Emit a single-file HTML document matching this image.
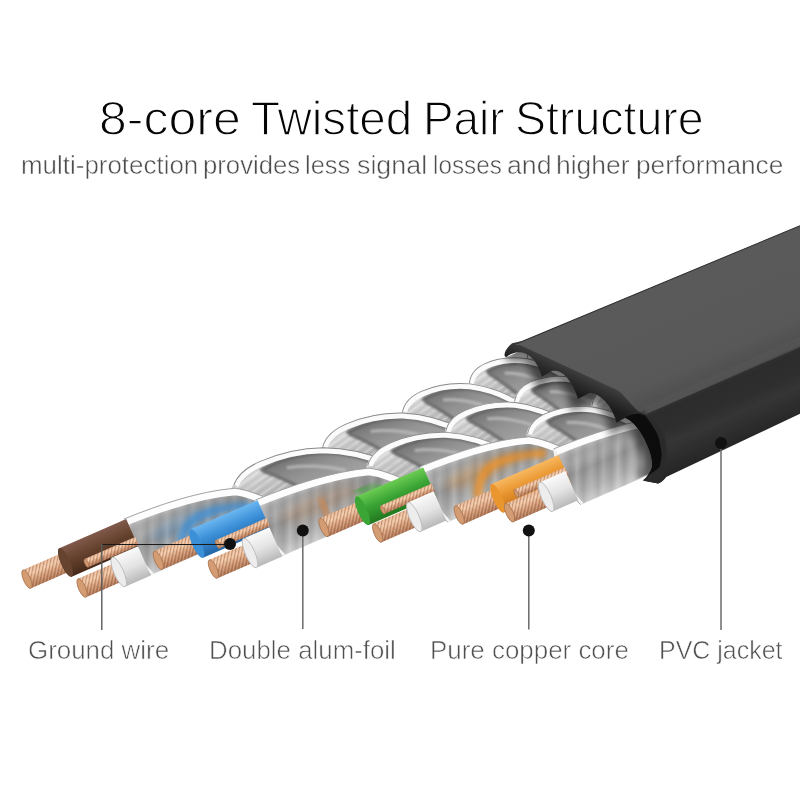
<!DOCTYPE html><html><head><meta charset="utf-8"><style>
html,body{margin:0;padding:0;background:#fff;}
body{width:800px;height:800px;position:relative;overflow:hidden;font-family:"Liberation Sans",sans-serif;}
.t{position:absolute;white-space:nowrap;line-height:1;}
.ti{font-size:48px;color:#050505;-webkit-text-stroke:1.3px #fff;transform-origin:0 0;}
.su{font-size:25px;color:#4d4d4d;-webkit-text-stroke:0.5px #fff;transform-origin:0 0;}
.lb{font-size:26px;color:#4f4f4f;-webkit-text-stroke:0.6px #fff;transform-origin:0 0;}
svg{position:absolute;left:0;top:0;}
</style></head><body>
<svg width="800" height="800" viewBox="0 0 800 800">
<defs>
<filter id="blur1" x="-20%" y="-20%" width="140%" height="140%"><feGaussianBlur stdDeviation="1.2"/></filter>
<filter id="blur3" x="-50%" y="-50%" width="200%" height="200%"><feGaussianBlur stdDeviation="4"/></filter>
<linearGradient id="gLobe" x1="0" y1="0" x2="0" y2="1"><stop offset="0" stop-color="#e2e2e2"/><stop offset="0.3" stop-color="#c9c9c9"/><stop offset="0.6" stop-color="#b3b3b3"/><stop offset="1" stop-color="#c2c2c2"/></linearGradient>
<linearGradient id="gSeg" x1="0" y1="0" x2="0" y2="1"><stop offset="0" stop-color="#dedede"/><stop offset="0.22" stop-color="#b4b4b4"/><stop offset="0.5" stop-color="#929292"/><stop offset="0.8" stop-color="#adadad"/><stop offset="1" stop-color="#c8c8c8"/></linearGradient>
<linearGradient id="gHol" x1="0" y1="0" x2="0" y2="1"><stop offset="0" stop-color="#747474"/><stop offset="0.4" stop-color="#929292"/><stop offset="1" stop-color="#ababab"/></linearGradient>
<linearGradient id="gWhite" x1="0" y1="0" x2="0" y2="1"><stop offset="0" stop-color="#fafafa"/><stop offset="0.5" stop-color="#e4e4e4"/><stop offset="1" stop-color="#b9b9b9"/></linearGradient>
<linearGradient id="gbrown" x1="0" y1="0" x2="0" y2="1"><stop offset="0" stop-color="#80594a"/><stop offset="0.45" stop-color="#66432f"/><stop offset="1" stop-color="#47291a"/></linearGradient>
<linearGradient id="gblue" x1="0" y1="0" x2="0" y2="1"><stop offset="0" stop-color="#6ab6f0"/><stop offset="0.45" stop-color="#3c90d8"/><stop offset="1" stop-color="#2266a6"/></linearGradient>
<linearGradient id="ggreen" x1="0" y1="0" x2="0" y2="1"><stop offset="0" stop-color="#6ccc52"/><stop offset="0.45" stop-color="#3ba636"/><stop offset="1" stop-color="#22781f"/></linearGradient>
<linearGradient id="gorange" x1="0" y1="0" x2="0" y2="1"><stop offset="0" stop-color="#f8b860"/><stop offset="0.45" stop-color="#e9962f"/><stop offset="1" stop-color="#c6701a"/></linearGradient>
<linearGradient id="gCu" x1="0" y1="0" x2="0" y2="1"><stop offset="0" stop-color="#e7b896"/><stop offset="0.3" stop-color="#f2cbab"/><stop offset="0.6" stop-color="#d49d78"/><stop offset="1" stop-color="#a86f4f"/></linearGradient>
<pattern id="pCu" width="3.2" height="3.2" patternUnits="userSpaceOnUse" patternTransform="rotate(-55)"><rect width="3.2" height="1" fill="#9b5f3e" opacity="0.5"/><rect y="1.6" width="3.2" height="0.6" fill="#fff3e6" opacity="0.35"/></pattern>
<linearGradient id="gShade" x1="-22" y1="0" x2="0" y2="0" gradientUnits="userSpaceOnUse"><stop offset="0" stop-color="#000" stop-opacity="0"/><stop offset="1" stop-color="#000" stop-opacity="0.75"/></linearGradient>
<linearGradient id="gJtop" x1="0" y1="0" x2="0" y2="1"><stop offset="0" stop-color="#5a5a5a"/><stop offset="0.8" stop-color="#585858"/><stop offset="1" stop-color="#4e4e4e"/></linearGradient>
<linearGradient id="gJfront" x1="0" y1="0" x2="0" y2="1"><stop offset="0" stop-color="#444"/><stop offset="0.28" stop-color="#2c2c2c"/><stop offset="0.5" stop-color="#2e2e2e"/><stop offset="0.65" stop-color="#353535"/><stop offset="1" stop-color="#252525"/></linearGradient>
<linearGradient id="gRing" x1="0" y1="0" x2="1" y2="1"><stop offset="0" stop-color="#3a3a3a"/><stop offset="0.5" stop-color="#2a2a2a"/><stop offset="1" stop-color="#222"/></linearGradient>
<linearGradient id="gShade2" x1="0" y1="0" x2="1" y2="0"><stop offset="0" stop-color="#000" stop-opacity="0"/><stop offset="0.5" stop-color="#000" stop-opacity="0.6"/><stop offset="1" stop-color="#000" stop-opacity="0.9"/></linearGradient>
<filter id="blur4" x="-50%" y="-50%" width="200%" height="200%"><feGaussianBlur stdDeviation="5"/></filter>
<linearGradient id="gRing2" x1="470" y1="40" x2="455" y2="53" gradientUnits="userSpaceOnUse"><stop offset="0" stop-color="#3e3e3e"/><stop offset="0.5" stop-color="#2c2c2c"/><stop offset="1" stop-color="#1c1c1c"/></linearGradient>
<filter id="blur2" x="-30%" y="-30%" width="160%" height="160%"><feGaussianBlur stdDeviation="2.5"/></filter>
<pattern id="pStreak" width="41" height="40" patternUnits="userSpaceOnUse" patternTransform="rotate(23.5)"><rect x="0" width="4" height="40" fill="#fff" opacity="0.2"/><rect x="7" width="3" height="40" fill="#000" opacity="0.06"/><rect x="13" width="6" height="40" fill="#fff" opacity="0.12"/><rect x="22" width="2" height="40" fill="#000" opacity="0.07"/><rect x="27" width="3" height="40" fill="#fff" opacity="0.16"/><rect x="34" width="4" height="40" fill="#000" opacity="0.05"/></pattern>
<pattern id="pStreak2" width="60" height="13" patternUnits="userSpaceOnUse" patternTransform="rotate(-12)"><rect y="0" width="60" height="1.5" fill="#fff" opacity="0.35"/><rect y="4" width="60" height="1" fill="#000" opacity="0.06"/><rect y="7" width="60" height="2" fill="#fff" opacity="0.25"/><rect y="10.5" width="60" height="1" fill="#000" opacity="0.05"/></pattern>
</defs>
<g transform="translate(124 519) rotate(-23.5)">
<clipPath id="cpShade"><path d="M380,4 L560,4 L560,168 L380,168 Z"/></clipPath>
<path d="M492.0,13.0 C495.8,5.0 502.2,1.5 509.9,1.5 C520.1,1.5 531.6,5.0 543.0,14.0 C552.6,22.0 563.5,36.0 572.4,54.0 L572.4,62.0 L490.7,62.0 L490.7,13.0 Z" fill="url(#gLobe)"/><path d="M492.0,13.0 C495.8,5.0 502.2,1.5 509.9,1.5 C520.1,1.5 531.6,5.0 543.0,14.0 C552.6,22.0 563.5,36.0 572.4,54.0 L572.4,62.0 L490.7,62.0 L490.7,13.0 Z" fill="url(#pStreak2)"/><path d="M494.6,22.0 C500.9,20.0 507.3,22.0 513.7,28.0" fill="none" stroke="#c4c4c4" stroke-width="1.5" filter="url(#blur1)"/><path d="M507.3,9.0 C517.5,6.0 530.3,8.0 543.0,18.0 C552.6,26.0 562.2,40.0 571.1,58.0 L571.1,62.0 L530.3,62.0 C525.2,46.0 517.5,26.0 507.3,9.0 Z" fill="url(#gHol)" filter="url(#blur1)"/><path d="M508.6,10.0 C517.5,7.5 530.3,9.5 543.0,19.5 C552.0,27.0 560.9,40.0 568.6,56.0" fill="none" stroke="#5a5a5a" stroke-width="3.5" filter="url(#blur1)" opacity="0.65"/><path d="M509.2,12.0 C516.2,24.0 522.6,38.0 529.0,54.0" fill="none" stroke="#5a5a5a" stroke-width="3" filter="url(#blur1)" opacity="0.75"/><path d="M521.3,18.0 C530.3,22.0 539.2,30.0 549.4,44.0" fill="none" stroke="#c0c0c0" stroke-width="3" filter="url(#blur1)" opacity="0.8"/><path d="M493.0,14.0 C496.5,7.5 502.2,4.2 509.9,4.2 C520.1,4.2 530.9,7.5 542.4,16.5 C552.0,24.5 562.2,38.0 571.1,56.0" fill="none" stroke="#fbfbfb" stroke-width="5.5"/><path d="M492.0,13.0 C495.8,5.0 502.2,1.5 509.9,1.5 C520.1,1.5 531.6,5.0 543.0,14.0 C552.6,22.0 563.5,36.0 572.4,54.0" fill="none" stroke="#8a8a8a" stroke-width="0.9"/><path d="M434.0,13.0 C438.4,5.0 445.6,1.5 454.3,1.5 C465.9,1.5 478.9,5.0 492.0,14.0 C502.9,22.0 515.2,36.0 525.4,54.0 L525.4,62.0 L432.6,62.0 L432.6,13.0 Z" fill="url(#gLobe)"/><path d="M434.0,13.0 C438.4,5.0 445.6,1.5 454.3,1.5 C465.9,1.5 478.9,5.0 492.0,14.0 C502.9,22.0 515.2,36.0 525.4,54.0 L525.4,62.0 L432.6,62.0 L432.6,13.0 Z" fill="url(#pStreak2)"/><path d="M436.9,22.0 C444.1,20.0 451.4,22.0 458.6,28.0" fill="none" stroke="#c4c4c4" stroke-width="1.5" filter="url(#blur1)"/><path d="M451.4,9.0 C463.0,6.0 477.5,8.0 492.0,18.0 C502.9,26.0 513.8,40.0 523.9,58.0 L523.9,62.0 L477.5,62.0 C471.7,46.0 463.0,26.0 451.4,9.0 Z" fill="url(#gHol)" filter="url(#blur1)"/><path d="M452.9,10.0 C463.0,7.5 477.5,9.5 492.0,19.5 C502.1,27.0 512.3,40.0 521.0,56.0" fill="none" stroke="#5a5a5a" stroke-width="3.5" filter="url(#blur1)" opacity="0.65"/><path d="M453.6,12.0 C461.6,24.0 468.8,38.0 476.1,54.0" fill="none" stroke="#5a5a5a" stroke-width="3" filter="url(#blur1)" opacity="0.75"/><path d="M467.4,18.0 C477.5,22.0 487.6,30.0 499.2,44.0" fill="none" stroke="#c0c0c0" stroke-width="3" filter="url(#blur1)" opacity="0.8"/><path d="M435.1,14.0 C439.1,7.5 445.6,4.2 454.3,4.2 C465.9,4.2 478.2,7.5 491.3,16.5 C502.1,24.5 513.8,38.0 523.9,56.0" fill="none" stroke="#fbfbfb" stroke-width="5.5"/><path d="M434.0,13.0 C438.4,5.0 445.6,1.5 454.3,1.5 C465.9,1.5 478.9,5.0 492.0,14.0 C502.9,22.0 515.2,36.0 525.4,54.0" fill="none" stroke="#8a8a8a" stroke-width="0.9"/><path d="M371.0,13.0 C375.7,5.0 383.6,1.5 393.1,1.5 C405.6,1.5 419.8,5.0 434.0,14.0 C445.8,22.0 459.2,36.0 470.2,54.0 L470.2,62.0 L369.4,62.0 L369.4,13.0 Z" fill="url(#gLobe)"/><path d="M371.0,13.0 C375.7,5.0 383.6,1.5 393.1,1.5 C405.6,1.5 419.8,5.0 434.0,14.0 C445.8,22.0 459.2,36.0 470.2,54.0 L470.2,62.0 L369.4,62.0 L369.4,13.0 Z" fill="url(#pStreak2)"/><path d="M374.1,22.0 C382.0,20.0 389.9,22.0 397.8,28.0" fill="none" stroke="#c4c4c4" stroke-width="1.5" filter="url(#blur1)"/><path d="M389.9,9.0 C402.5,6.0 418.2,8.0 434.0,18.0 C445.8,26.0 457.6,40.0 468.6,58.0 L468.6,62.0 L418.2,62.0 C411.9,46.0 402.5,26.0 389.9,9.0 Z" fill="url(#gHol)" filter="url(#blur1)"/><path d="M391.5,10.0 C402.5,7.5 418.2,9.5 434.0,19.5 C445.0,27.0 456.1,40.0 465.5,56.0" fill="none" stroke="#5a5a5a" stroke-width="3.5" filter="url(#blur1)" opacity="0.65"/><path d="M392.3,12.0 C400.9,24.0 408.8,38.0 416.7,54.0" fill="none" stroke="#5a5a5a" stroke-width="3" filter="url(#blur1)" opacity="0.75"/><path d="M407.2,18.0 C418.2,22.0 429.3,30.0 441.9,44.0" fill="none" stroke="#c0c0c0" stroke-width="3" filter="url(#blur1)" opacity="0.8"/><path d="M372.2,14.0 C376.5,7.5 383.6,4.2 393.1,4.2 C405.6,4.2 419.0,7.5 433.2,16.5 C445.0,24.5 457.6,38.0 468.6,56.0" fill="none" stroke="#fbfbfb" stroke-width="5.5"/><path d="M371.0,13.0 C375.7,5.0 383.6,1.5 393.1,1.5 C405.6,1.5 419.8,5.0 434.0,14.0 C445.8,22.0 459.2,36.0 470.2,54.0" fill="none" stroke="#8a8a8a" stroke-width="0.9"/><path d="M298.0,13.0 C303.5,5.0 312.6,1.5 323.6,1.5 C338.1,1.5 354.6,5.0 371.0,14.0 C384.7,22.0 400.2,36.0 413.0,54.0 L413.0,62.0 L296.2,62.0 L296.2,13.0 Z" fill="url(#gLobe)"/><path d="M298.0,13.0 C303.5,5.0 312.6,1.5 323.6,1.5 C338.1,1.5 354.6,5.0 371.0,14.0 C384.7,22.0 400.2,36.0 413.0,54.0 L413.0,62.0 L296.2,62.0 L296.2,13.0 Z" fill="url(#pStreak2)"/><path d="M301.6,22.0 C310.8,20.0 319.9,22.0 329.0,28.0" fill="none" stroke="#c4c4c4" stroke-width="1.5" filter="url(#blur1)"/><path d="M319.9,9.0 C334.5,6.0 352.8,8.0 371.0,18.0 C384.7,26.0 398.4,40.0 411.1,58.0 L411.1,62.0 L352.8,62.0 C345.4,46.0 334.5,26.0 319.9,9.0 Z" fill="url(#gHol)" filter="url(#blur1)"/><path d="M321.7,10.0 C334.5,7.5 352.8,9.5 371.0,19.5 C383.8,27.0 396.6,40.0 407.5,56.0" fill="none" stroke="#5a5a5a" stroke-width="3.5" filter="url(#blur1)" opacity="0.65"/><path d="M322.6,12.0 C332.7,24.0 341.8,38.0 350.9,54.0" fill="none" stroke="#5a5a5a" stroke-width="3" filter="url(#blur1)" opacity="0.75"/><path d="M340.0,18.0 C352.8,22.0 365.5,30.0 380.1,44.0" fill="none" stroke="#c0c0c0" stroke-width="3" filter="url(#blur1)" opacity="0.8"/><path d="M299.4,14.0 C304.4,7.5 312.6,4.2 323.6,4.2 C338.1,4.2 353.7,7.5 370.1,16.5 C383.8,24.5 398.4,38.0 411.1,56.0" fill="none" stroke="#fbfbfb" stroke-width="5.5"/><path d="M298.0,13.0 C303.5,5.0 312.6,1.5 323.6,1.5 C338.1,1.5 354.6,5.0 371.0,14.0 C384.7,22.0 400.2,36.0 413.0,54.0" fill="none" stroke="#8a8a8a" stroke-width="0.9"/><path d="M211.0,13.0 C217.5,5.0 228.4,1.5 241.4,1.5 C258.9,1.5 278.4,5.0 298.0,14.0 C314.3,22.0 332.8,36.0 348.0,54.0 L348.0,62.0 L208.8,62.0 L208.8,13.0 Z" fill="url(#gLobe)"/><path d="M211.0,13.0 C217.5,5.0 228.4,1.5 241.4,1.5 C258.9,1.5 278.4,5.0 298.0,14.0 C314.3,22.0 332.8,36.0 348.0,54.0 L348.0,62.0 L208.8,62.0 L208.8,13.0 Z" fill="url(#pStreak2)"/><path d="M215.3,22.0 C226.2,20.0 237.1,22.0 248.0,28.0" fill="none" stroke="#c4c4c4" stroke-width="1.5" filter="url(#blur1)"/><path d="M237.1,9.0 C254.5,6.0 276.2,8.0 298.0,18.0 C314.3,26.0 330.6,40.0 345.9,58.0 L345.9,62.0 L276.2,62.0 C267.6,46.0 254.5,26.0 237.1,9.0 Z" fill="url(#gHol)" filter="url(#blur1)"/><path d="M239.3,10.0 C254.5,7.5 276.2,9.5 298.0,19.5 C313.2,27.0 328.4,40.0 341.5,56.0" fill="none" stroke="#5a5a5a" stroke-width="3.5" filter="url(#blur1)" opacity="0.65"/><path d="M240.4,12.0 C252.3,24.0 263.2,38.0 274.1,54.0" fill="none" stroke="#5a5a5a" stroke-width="3" filter="url(#blur1)" opacity="0.75"/><path d="M261.0,18.0 C276.2,22.0 291.5,30.0 308.9,44.0" fill="none" stroke="#c0c0c0" stroke-width="3" filter="url(#blur1)" opacity="0.8"/><path d="M212.6,14.0 C218.6,7.5 228.4,4.2 241.4,4.2 C258.9,4.2 277.3,7.5 296.9,16.5 C313.2,24.5 330.6,38.0 345.9,56.0" fill="none" stroke="#fbfbfb" stroke-width="5.5"/><path d="M211.0,13.0 C217.5,5.0 228.4,1.5 241.4,1.5 C258.9,1.5 278.4,5.0 298.0,14.0 C314.3,22.0 332.8,36.0 348.0,54.0" fill="none" stroke="#8a8a8a" stroke-width="0.9"/><path d="M114.0,13.0 C121.3,5.0 133.4,1.5 147.9,1.5 C167.3,1.5 189.2,5.0 211.0,14.0 C229.2,22.0 249.8,36.0 266.8,54.0 L266.8,62.0 L111.6,62.0 L111.6,13.0 Z" fill="url(#gLobe)"/><path d="M114.0,13.0 C121.3,5.0 133.4,1.5 147.9,1.5 C167.3,1.5 189.2,5.0 211.0,14.0 C229.2,22.0 249.8,36.0 266.8,54.0 L266.8,62.0 L111.6,62.0 L111.6,13.0 Z" fill="url(#pStreak2)"/><path d="M118.8,22.0 C131.0,20.0 143.1,22.0 155.2,28.0" fill="none" stroke="#c4c4c4" stroke-width="1.5" filter="url(#blur1)"/><path d="M143.1,9.0 C162.5,6.0 186.8,8.0 211.0,18.0 C229.2,26.0 247.4,40.0 264.4,58.0 L264.4,62.0 L186.8,62.0 C177.1,46.0 162.5,26.0 143.1,9.0 Z" fill="url(#gHol)" filter="url(#blur1)"/><path d="M145.5,10.0 C162.5,7.5 186.8,9.5 211.0,19.5 C228.0,27.0 244.9,40.0 259.5,56.0" fill="none" stroke="#5a5a5a" stroke-width="3.5" filter="url(#blur1)" opacity="0.65"/><path d="M146.7,12.0 C160.1,24.0 172.2,38.0 184.3,54.0" fill="none" stroke="#5a5a5a" stroke-width="3" filter="url(#blur1)" opacity="0.75"/><path d="M169.8,18.0 C186.8,22.0 203.7,30.0 223.1,44.0" fill="none" stroke="#c0c0c0" stroke-width="3" filter="url(#blur1)" opacity="0.8"/><path d="M115.8,14.0 C122.5,7.5 133.4,4.2 147.9,4.2 C167.3,4.2 188.0,7.5 209.8,16.5 C228.0,24.5 247.4,38.0 264.4,56.0" fill="none" stroke="#fbfbfb" stroke-width="5.5"/><path d="M114.0,13.0 C121.3,5.0 133.4,1.5 147.9,1.5 C167.3,1.5 189.2,5.0 211.0,14.0 C229.2,22.0 249.8,36.0 266.8,54.0" fill="none" stroke="#8a8a8a" stroke-width="0.9"/><path d="M0.0,0.0 C39.9,1.0 79.8,4.5 114.0,16.0 C124.0,22.0 136.0,33.0 148.0,48.0 L148.0,62.0 L4.0,62.0 C-3.0,40.0 -5.0,20.0 0.0,0.0 Z" fill="url(#gSeg)"/><path d="M0.0,0.0 C39.9,1.0 79.8,4.5 114.0,16.0 C124.0,22.0 136.0,33.0 148.0,48.0 L148.0,62.0 L4.0,62.0 C-3.0,40.0 -5.0,20.0 0.0,0.0 Z" fill="url(#pStreak)" filter="url(#blur1)"/><ellipse cx="57.0" cy="28.0" rx="41.0" ry="10" fill="#3c90d8" opacity="0.25" filter="url(#blur3)"/><path d="M40.0,52.0 C46.0,36.0 56.0,28.0 72.0,27.0 C92.0,27.0 108.0,32.0 120.0,38.0" fill="none" stroke="#3c90d8" stroke-width="9" filter="url(#blur2)" opacity="0.75"/><path d="M4.0,12.0 C39.9,12.0 79.8,16.0 118.0,28.0" fill="none" stroke="#7a7a7a" stroke-width="6" filter="url(#blur3)" opacity="0.6"/><path d="M1.0,3.5 C39.9,4.5 79.8,8.0 113.0,19.5 C122.0,25.0 134.0,36.0 146.0,51.0" fill="none" stroke="#fdfdfd" stroke-width="7"/><path d="M0.0,0.0 C39.9,1.0 79.8,4.5 114.0,16.0 C124.0,22.0 136.0,33.0 148.0,48.0" fill="none" stroke="#999" stroke-width="0.8"/>
<path d="M0.0,1.0 C-5.0,20.0 -4.0,42.0 4.0,62.0" fill="none" stroke="#f4f4f4" stroke-width="3.5"/><path d="M-1.5,1.0 C-6.5,20.0 -5.5,42.0 2.5,62.0" fill="none" stroke="#9c9c9c" stroke-width="0.8"/><path d="M-66.0,6.5 L-113.0,6.5 A3.5,10.0 0 0 0 -113.0,26.5 L-66.0,26.5 Z" fill="url(#gCu)"/><path d="M-66.0,6.5 L-113.0,6.5 A3.5,10.0 0 0 0 -113.0,26.5 L-66.0,26.5 Z" fill="url(#pCu)"/><ellipse cx="-113.0" cy="16.5" rx="3.5" ry="10.0" fill="#d39c72" stroke="#a5704c" stroke-width="0.7"/><path d="M2.0,1.0 L-71.0,1.0 A4.6,15.5 0 0 0 -71.0,32.0 L2.0,32.0 Z" fill="url(#gbrown)"/><ellipse cx="-71.0" cy="16.5" rx="4.6" ry="15.5" fill="#66432f"/><path d="M3.0,21.0 L-52.0,21.0 A1.6,4.5 0 0 0 -52.0,30.0 L3.0,30.0 Z" fill="url(#gCu)"/><path d="M3.0,21.0 L-52.0,21.0 A1.6,4.5 0 0 0 -52.0,30.0 L3.0,30.0 Z" fill="url(#pCu)"/><ellipse cx="-52.0" cy="25.5" rx="1.6" ry="4.5" fill="#d39c72" stroke="#a5704c" stroke-width="0.7"/><path d="M-20.0,36.5 L-66.0,36.5 A3.5,10.0 0 0 0 -66.0,56.5 L-20.0,56.5 Z" fill="url(#gCu)"/><path d="M-20.0,36.5 L-66.0,36.5 A3.5,10.0 0 0 0 -66.0,56.5 L-20.0,56.5 Z" fill="url(#pCu)"/><ellipse cx="-66.0" cy="46.5" rx="3.5" ry="10.0" fill="#d39c72" stroke="#a5704c" stroke-width="0.7"/><path d="M2.0,30.5 L-26.0,30.5 A4.8,16.0 0 0 0 -26.0,62.5 L2.0,62.5 Z" fill="url(#gWhite)"/><ellipse cx="-26.0" cy="46.5" rx="4.8" ry="16.0" fill="#ededed"/><ellipse cx="-26.0" cy="46.5" rx="4.8" ry="16" fill="none" stroke="#b8b8b8" stroke-width="0.8"/>
<path d="M526.0,48.0 C529.8,40.0 536.2,36.5 543.9,36.5 C554.1,36.5 565.6,40.0 577.0,49.0 C586.6,57.0 597.5,71.0 606.4,89.0 L606.4,97.0 L524.7,97.0 L524.7,48.0 Z" fill="url(#gLobe)"/><path d="M526.0,48.0 C529.8,40.0 536.2,36.5 543.9,36.5 C554.1,36.5 565.6,40.0 577.0,49.0 C586.6,57.0 597.5,71.0 606.4,89.0 L606.4,97.0 L524.7,97.0 L524.7,48.0 Z" fill="url(#pStreak2)"/><path d="M528.6,57.0 C534.9,55.0 541.3,57.0 547.7,63.0" fill="none" stroke="#c4c4c4" stroke-width="1.5" filter="url(#blur1)"/><path d="M541.3,44.0 C551.5,41.0 564.3,43.0 577.0,53.0 C586.6,61.0 596.2,75.0 605.1,93.0 L605.1,97.0 L564.3,97.0 C559.2,81.0 551.5,61.0 541.3,44.0 Z" fill="url(#gHol)" filter="url(#blur1)"/><path d="M542.6,45.0 C551.5,42.5 564.3,44.5 577.0,54.5 C586.0,62.0 594.9,75.0 602.6,91.0" fill="none" stroke="#5a5a5a" stroke-width="3.5" filter="url(#blur1)" opacity="0.65"/><path d="M543.2,47.0 C550.2,59.0 556.6,73.0 563.0,89.0" fill="none" stroke="#5a5a5a" stroke-width="3" filter="url(#blur1)" opacity="0.75"/><path d="M555.3,53.0 C564.3,57.0 573.2,65.0 583.4,79.0" fill="none" stroke="#c0c0c0" stroke-width="3" filter="url(#blur1)" opacity="0.8"/><path d="M527.0,49.0 C530.5,42.5 536.2,39.2 543.9,39.2 C554.1,39.2 564.9,42.5 576.4,51.5 C586.0,59.5 596.2,73.0 605.1,91.0" fill="none" stroke="#fbfbfb" stroke-width="5.5"/><path d="M526.0,48.0 C529.8,40.0 536.2,36.5 543.9,36.5 C554.1,36.5 565.6,40.0 577.0,49.0 C586.6,57.0 597.5,71.0 606.4,89.0" fill="none" stroke="#8a8a8a" stroke-width="0.9"/><path d="M468.0,48.0 C472.4,40.0 479.6,36.5 488.3,36.5 C499.9,36.5 513.0,40.0 526.0,49.0 C536.9,57.0 549.2,71.0 559.4,89.0 L559.4,97.0 L466.6,97.0 L466.6,48.0 Z" fill="url(#gLobe)"/><path d="M468.0,48.0 C472.4,40.0 479.6,36.5 488.3,36.5 C499.9,36.5 513.0,40.0 526.0,49.0 C536.9,57.0 549.2,71.0 559.4,89.0 L559.4,97.0 L466.6,97.0 L466.6,48.0 Z" fill="url(#pStreak2)"/><path d="M470.9,57.0 C478.1,55.0 485.4,57.0 492.6,63.0" fill="none" stroke="#c4c4c4" stroke-width="1.5" filter="url(#blur1)"/><path d="M485.4,44.0 C497.0,41.0 511.5,43.0 526.0,53.0 C536.9,61.0 547.8,75.0 557.9,93.0 L557.9,97.0 L511.5,97.0 C505.7,81.0 497.0,61.0 485.4,44.0 Z" fill="url(#gHol)" filter="url(#blur1)"/><path d="M486.9,45.0 C497.0,42.5 511.5,44.5 526.0,54.5 C536.1,62.0 546.3,75.0 555.0,91.0" fill="none" stroke="#5a5a5a" stroke-width="3.5" filter="url(#blur1)" opacity="0.65"/><path d="M487.6,47.0 C495.6,59.0 502.8,73.0 510.1,89.0" fill="none" stroke="#5a5a5a" stroke-width="3" filter="url(#blur1)" opacity="0.75"/><path d="M501.4,53.0 C511.5,57.0 521.6,65.0 533.2,79.0" fill="none" stroke="#c0c0c0" stroke-width="3" filter="url(#blur1)" opacity="0.8"/><path d="M469.1,49.0 C473.1,42.5 479.6,39.2 488.3,39.2 C499.9,39.2 512.2,42.5 525.3,51.5 C536.1,59.5 547.8,73.0 557.9,91.0" fill="none" stroke="#fbfbfb" stroke-width="5.5"/><path d="M468.0,48.0 C472.4,40.0 479.6,36.5 488.3,36.5 C499.9,36.5 513.0,40.0 526.0,49.0 C536.9,57.0 549.2,71.0 559.4,89.0" fill="none" stroke="#8a8a8a" stroke-width="0.9"/><path d="M405.0,48.0 C409.7,40.0 417.6,36.5 427.1,36.5 C439.6,36.5 453.8,40.0 468.0,49.0 C479.8,57.0 493.2,71.0 504.2,89.0 L504.2,97.0 L403.4,97.0 L403.4,48.0 Z" fill="url(#gLobe)"/><path d="M405.0,48.0 C409.7,40.0 417.6,36.5 427.1,36.5 C439.6,36.5 453.8,40.0 468.0,49.0 C479.8,57.0 493.2,71.0 504.2,89.0 L504.2,97.0 L403.4,97.0 L403.4,48.0 Z" fill="url(#pStreak2)"/><path d="M408.1,57.0 C416.0,55.0 423.9,57.0 431.8,63.0" fill="none" stroke="#c4c4c4" stroke-width="1.5" filter="url(#blur1)"/><path d="M423.9,44.0 C436.5,41.0 452.2,43.0 468.0,53.0 C479.8,61.0 491.6,75.0 502.6,93.0 L502.6,97.0 L452.2,97.0 C445.9,81.0 436.5,61.0 423.9,44.0 Z" fill="url(#gHol)" filter="url(#blur1)"/><path d="M425.5,45.0 C436.5,42.5 452.2,44.5 468.0,54.5 C479.0,62.0 490.1,75.0 499.5,91.0" fill="none" stroke="#5a5a5a" stroke-width="3.5" filter="url(#blur1)" opacity="0.65"/><path d="M426.3,47.0 C434.9,59.0 442.8,73.0 450.7,89.0" fill="none" stroke="#5a5a5a" stroke-width="3" filter="url(#blur1)" opacity="0.75"/><path d="M441.2,53.0 C452.2,57.0 463.3,65.0 475.9,79.0" fill="none" stroke="#c0c0c0" stroke-width="3" filter="url(#blur1)" opacity="0.8"/><path d="M406.2,49.0 C410.5,42.5 417.6,39.2 427.1,39.2 C439.6,39.2 453.0,42.5 467.2,51.5 C479.0,59.5 491.6,73.0 502.6,91.0" fill="none" stroke="#fbfbfb" stroke-width="5.5"/><path d="M405.0,48.0 C409.7,40.0 417.6,36.5 427.1,36.5 C439.6,36.5 453.8,40.0 468.0,49.0 C479.8,57.0 493.2,71.0 504.2,89.0" fill="none" stroke="#8a8a8a" stroke-width="0.9"/><path d="M330.0,48.0 C335.6,40.0 345.0,36.5 356.2,36.5 C371.2,36.5 388.1,40.0 405.0,49.0 C419.1,57.0 435.0,71.0 448.1,89.0 L448.1,97.0 L328.1,97.0 L328.1,48.0 Z" fill="url(#gLobe)"/><path d="M330.0,48.0 C335.6,40.0 345.0,36.5 356.2,36.5 C371.2,36.5 388.1,40.0 405.0,49.0 C419.1,57.0 435.0,71.0 448.1,89.0 L448.1,97.0 L328.1,97.0 L328.1,48.0 Z" fill="url(#pStreak2)"/><path d="M333.8,57.0 C343.1,55.0 352.5,57.0 361.9,63.0" fill="none" stroke="#c4c4c4" stroke-width="1.5" filter="url(#blur1)"/><path d="M352.5,44.0 C367.5,41.0 386.2,43.0 405.0,53.0 C419.1,61.0 433.1,75.0 446.2,93.0 L446.2,97.0 L386.2,97.0 C378.8,81.0 367.5,61.0 352.5,44.0 Z" fill="url(#gHol)" filter="url(#blur1)"/><path d="M354.4,45.0 C367.5,42.5 386.2,44.5 405.0,54.5 C418.1,62.0 431.2,75.0 442.5,91.0" fill="none" stroke="#5a5a5a" stroke-width="3.5" filter="url(#blur1)" opacity="0.65"/><path d="M355.3,47.0 C365.6,59.0 375.0,73.0 384.4,89.0" fill="none" stroke="#5a5a5a" stroke-width="3" filter="url(#blur1)" opacity="0.75"/><path d="M373.1,53.0 C386.2,57.0 399.4,65.0 414.4,79.0" fill="none" stroke="#c0c0c0" stroke-width="3" filter="url(#blur1)" opacity="0.8"/><path d="M331.4,49.0 C336.6,42.5 345.0,39.2 356.2,39.2 C371.2,39.2 387.2,42.5 404.1,51.5 C418.1,59.5 433.1,73.0 446.2,91.0" fill="none" stroke="#fbfbfb" stroke-width="5.5"/><path d="M330.0,48.0 C335.6,40.0 345.0,36.5 356.2,36.5 C371.2,36.5 388.1,40.0 405.0,49.0 C419.1,57.0 435.0,71.0 448.1,89.0" fill="none" stroke="#8a8a8a" stroke-width="0.9"/><path d="M245.0,48.0 C251.4,40.0 262.0,36.5 274.8,36.5 C291.8,36.5 310.9,40.0 330.0,49.0 C345.9,57.0 364.0,71.0 378.9,89.0 L378.9,97.0 L242.9,97.0 L242.9,48.0 Z" fill="url(#gLobe)"/><path d="M245.0,48.0 C251.4,40.0 262.0,36.5 274.8,36.5 C291.8,36.5 310.9,40.0 330.0,49.0 C345.9,57.0 364.0,71.0 378.9,89.0 L378.9,97.0 L242.9,97.0 L242.9,48.0 Z" fill="url(#pStreak2)"/><path d="M249.2,57.0 C259.9,55.0 270.5,57.0 281.1,63.0" fill="none" stroke="#c4c4c4" stroke-width="1.5" filter="url(#blur1)"/><path d="M270.5,44.0 C287.5,41.0 308.8,43.0 330.0,53.0 C345.9,61.0 361.9,75.0 376.8,93.0 L376.8,97.0 L308.8,97.0 C300.2,81.0 287.5,61.0 270.5,44.0 Z" fill="url(#gHol)" filter="url(#blur1)"/><path d="M272.6,45.0 C287.5,42.5 308.8,44.5 330.0,54.5 C344.9,62.0 359.8,75.0 372.5,91.0" fill="none" stroke="#5a5a5a" stroke-width="3.5" filter="url(#blur1)" opacity="0.65"/><path d="M273.7,47.0 C285.4,59.0 296.0,73.0 306.6,89.0" fill="none" stroke="#5a5a5a" stroke-width="3" filter="url(#blur1)" opacity="0.75"/><path d="M293.9,53.0 C308.8,57.0 323.6,65.0 340.6,79.0" fill="none" stroke="#c0c0c0" stroke-width="3" filter="url(#blur1)" opacity="0.8"/><path d="M246.6,49.0 C252.4,42.5 262.0,39.2 274.8,39.2 C291.8,39.2 309.8,42.5 328.9,51.5 C344.9,59.5 361.9,73.0 376.8,91.0" fill="none" stroke="#fbfbfb" stroke-width="5.5"/><path d="M245.0,48.0 C251.4,40.0 262.0,36.5 274.8,36.5 C291.8,36.5 310.9,40.0 330.0,49.0 C345.9,57.0 364.0,71.0 378.9,89.0" fill="none" stroke="#8a8a8a" stroke-width="0.9"/><path d="M128.0,35.0 C168.9,36.0 209.9,39.5 245.0,51.0 C255.0,57.0 267.0,68.0 279.0,83.0 L279.0,97.0 L132.0,97.0 C125.0,75.0 123.0,55.0 128.0,35.0 Z" fill="url(#gSeg)"/><path d="M128.0,35.0 C168.9,36.0 209.9,39.5 245.0,51.0 C255.0,57.0 267.0,68.0 279.0,83.0 L279.0,97.0 L132.0,97.0 C125.0,75.0 123.0,55.0 128.0,35.0 Z" fill="url(#pStreak)" filter="url(#blur1)"/><ellipse cx="186.5" cy="63.0" rx="42.1" ry="10" fill="#c98a5a" opacity="0.25" filter="url(#blur3)"/><path d="M186.0,91.0 C187.0,80.0 188.0,67.0 190.0,59.0" fill="none" stroke="#c98a5a" stroke-width="9" filter="url(#blur2)" opacity="0.7"/><path d="M223.0,67.0 C233.0,68.0 240.0,70.0 248.0,73.0" fill="none" stroke="#3aa535" stroke-width="7" filter="url(#blur2)" opacity="0.6"/><path d="M132.0,47.0 C168.9,47.0 209.9,51.0 249.0,63.0" fill="none" stroke="#7a7a7a" stroke-width="6" filter="url(#blur3)" opacity="0.6"/><path d="M129.0,38.5 C168.9,39.5 209.9,43.0 244.0,54.5 C253.0,60.0 265.0,71.0 277.0,86.0" fill="none" stroke="#fdfdfd" stroke-width="7"/><path d="M128.0,35.0 C168.9,36.0 209.9,39.5 245.0,51.0 C255.0,57.0 267.0,68.0 279.0,83.0" fill="none" stroke="#999" stroke-width="0.8"/>
<path d="M128.0,36.0 C123.0,55.0 124.0,77.0 132.0,97.0" fill="none" stroke="#f4f4f4" stroke-width="3.5"/><path d="M126.5,36.0 C121.5,55.0 122.5,77.0 130.5,97.0" fill="none" stroke="#9c9c9c" stroke-width="0.8"/><path d="M62.0,41.5 L15.0,41.5 A3.5,10.0 0 0 0 15.0,61.5 L62.0,61.5 Z" fill="url(#gCu)"/><path d="M62.0,41.5 L15.0,41.5 A3.5,10.0 0 0 0 15.0,61.5 L62.0,61.5 Z" fill="url(#pCu)"/><ellipse cx="15.0" cy="51.5" rx="3.5" ry="10.0" fill="#d39c72" stroke="#a5704c" stroke-width="0.7"/><path d="M130.0,36.0 L57.0,36.0 A4.6,15.5 0 0 0 57.0,67.0 L130.0,67.0 Z" fill="url(#gblue)"/><ellipse cx="57.0" cy="51.5" rx="4.6" ry="15.5" fill="#3c90d8"/><path d="M131.0,56.0 L76.0,56.0 A1.6,4.5 0 0 0 76.0,65.0 L131.0,65.0 Z" fill="url(#gCu)"/><path d="M131.0,56.0 L76.0,56.0 A1.6,4.5 0 0 0 76.0,65.0 L131.0,65.0 Z" fill="url(#pCu)"/><ellipse cx="76.0" cy="60.5" rx="1.6" ry="4.5" fill="#d39c72" stroke="#a5704c" stroke-width="0.7"/><path d="M108.0,71.5 L62.0,71.5 A3.5,10.0 0 0 0 62.0,91.5 L108.0,91.5 Z" fill="url(#gCu)"/><path d="M108.0,71.5 L62.0,71.5 A3.5,10.0 0 0 0 62.0,91.5 L108.0,91.5 Z" fill="url(#pCu)"/><ellipse cx="62.0" cy="81.5" rx="3.5" ry="10.0" fill="#d39c72" stroke="#a5704c" stroke-width="0.7"/><path d="M130.0,65.5 L102.0,65.5 A4.8,16.0 0 0 0 102.0,97.5 L130.0,97.5 Z" fill="url(#gWhite)"/><ellipse cx="102.0" cy="81.5" rx="4.8" ry="16.0" fill="#ededed"/><ellipse cx="102.0" cy="81.5" rx="4.8" ry="16" fill="none" stroke="#b8b8b8" stroke-width="0.8"/>
<path d="M536.0,83.0 C540.1,75.0 546.9,71.5 555.1,71.5 C566.0,71.5 578.3,75.0 590.6,84.0 C600.8,92.0 612.4,106.0 621.9,124.0 L621.9,132.0 L534.6,132.0 L534.6,83.0 Z" fill="url(#gLobe)"/><path d="M536.0,83.0 C540.1,75.0 546.9,71.5 555.1,71.5 C566.0,71.5 578.3,75.0 590.6,84.0 C600.8,92.0 612.4,106.0 621.9,124.0 L621.9,132.0 L534.6,132.0 L534.6,83.0 Z" fill="url(#pStreak2)"/><path d="M538.7,92.0 C545.5,90.0 552.4,92.0 559.2,98.0" fill="none" stroke="#c4c4c4" stroke-width="1.5" filter="url(#blur1)"/><path d="M552.4,79.0 C563.3,76.0 576.9,78.0 590.6,88.0 C600.8,96.0 611.0,110.0 620.6,128.0 L620.6,132.0 L576.9,132.0 C571.5,116.0 563.3,96.0 552.4,79.0 Z" fill="url(#gHol)" filter="url(#blur1)"/><path d="M553.7,80.0 C563.3,77.5 576.9,79.5 590.6,89.5 C600.1,97.0 609.7,110.0 617.8,126.0" fill="none" stroke="#5a5a5a" stroke-width="3.5" filter="url(#blur1)" opacity="0.65"/><path d="M554.4,82.0 C561.9,94.0 568.7,108.0 575.6,124.0" fill="none" stroke="#5a5a5a" stroke-width="3" filter="url(#blur1)" opacity="0.75"/><path d="M567.4,88.0 C576.9,92.0 586.5,100.0 597.4,114.0" fill="none" stroke="#c0c0c0" stroke-width="3" filter="url(#blur1)" opacity="0.8"/><path d="M537.0,84.0 C540.8,77.5 546.9,74.2 555.1,74.2 C566.0,74.2 577.6,77.5 589.9,86.5 C600.1,94.5 611.0,108.0 620.6,126.0" fill="none" stroke="#fbfbfb" stroke-width="5.5"/><path d="M536.0,83.0 C540.1,75.0 546.9,71.5 555.1,71.5 C566.0,71.5 578.3,75.0 590.6,84.0 C600.8,92.0 612.4,106.0 621.9,124.0" fill="none" stroke="#8a8a8a" stroke-width="0.9"/><path d="M474.0,83.0 C478.6,75.0 486.4,71.5 495.7,71.5 C508.1,71.5 522.0,75.0 536.0,84.0 C547.6,92.0 560.8,106.0 571.6,124.0 L571.6,132.0 L472.4,132.0 L472.4,83.0 Z" fill="url(#gLobe)"/><path d="M474.0,83.0 C478.6,75.0 486.4,71.5 495.7,71.5 C508.1,71.5 522.0,75.0 536.0,84.0 C547.6,92.0 560.8,106.0 571.6,124.0 L571.6,132.0 L472.4,132.0 L472.4,83.0 Z" fill="url(#pStreak2)"/><path d="M477.1,92.0 C484.9,90.0 492.6,92.0 500.4,98.0" fill="none" stroke="#c4c4c4" stroke-width="1.5" filter="url(#blur1)"/><path d="M492.6,79.0 C505.0,76.0 520.5,78.0 536.0,88.0 C547.6,96.0 559.2,110.0 570.1,128.0 L570.1,132.0 L520.5,132.0 C514.3,116.0 505.0,96.0 492.6,79.0 Z" fill="url(#gHol)" filter="url(#blur1)"/><path d="M494.1,80.0 C505.0,77.5 520.5,79.5 536.0,89.5 C546.9,97.0 557.7,110.0 567.0,126.0" fill="none" stroke="#5a5a5a" stroke-width="3.5" filter="url(#blur1)" opacity="0.65"/><path d="M494.9,82.0 C503.4,94.0 511.2,108.0 519.0,124.0" fill="none" stroke="#5a5a5a" stroke-width="3" filter="url(#blur1)" opacity="0.75"/><path d="M509.6,88.0 C520.5,92.0 531.4,100.0 543.8,114.0" fill="none" stroke="#c0c0c0" stroke-width="3" filter="url(#blur1)" opacity="0.8"/><path d="M475.2,84.0 C479.4,77.5 486.4,74.2 495.7,74.2 C508.1,74.2 521.3,77.5 535.2,86.5 C546.9,94.5 559.2,108.0 570.1,126.0" fill="none" stroke="#fbfbfb" stroke-width="5.5"/><path d="M474.0,83.0 C478.6,75.0 486.4,71.5 495.7,71.5 C508.1,71.5 522.0,75.0 536.0,84.0 C547.6,92.0 560.8,106.0 571.6,124.0" fill="none" stroke="#8a8a8a" stroke-width="0.9"/><path d="M404.0,83.0 C409.2,75.0 418.0,71.5 428.5,71.5 C442.5,71.5 458.2,75.0 474.0,84.0 C487.1,92.0 502.0,106.0 514.2,124.0 L514.2,132.0 L402.2,132.0 L402.2,83.0 Z" fill="url(#gLobe)"/><path d="M404.0,83.0 C409.2,75.0 418.0,71.5 428.5,71.5 C442.5,71.5 458.2,75.0 474.0,84.0 C487.1,92.0 502.0,106.0 514.2,124.0 L514.2,132.0 L402.2,132.0 L402.2,83.0 Z" fill="url(#pStreak2)"/><path d="M407.5,92.0 C416.2,90.0 425.0,92.0 433.8,98.0" fill="none" stroke="#c4c4c4" stroke-width="1.5" filter="url(#blur1)"/><path d="M425.0,79.0 C439.0,76.0 456.5,78.0 474.0,88.0 C487.1,96.0 500.2,110.0 512.5,128.0 L512.5,132.0 L456.5,132.0 C449.5,116.0 439.0,96.0 425.0,79.0 Z" fill="url(#gHol)" filter="url(#blur1)"/><path d="M426.8,80.0 C439.0,77.5 456.5,79.5 474.0,89.5 C486.2,97.0 498.5,110.0 509.0,126.0" fill="none" stroke="#5a5a5a" stroke-width="3.5" filter="url(#blur1)" opacity="0.65"/><path d="M427.6,82.0 C437.2,94.0 446.0,108.0 454.8,124.0" fill="none" stroke="#5a5a5a" stroke-width="3" filter="url(#blur1)" opacity="0.75"/><path d="M444.2,88.0 C456.5,92.0 468.8,100.0 482.8,114.0" fill="none" stroke="#c0c0c0" stroke-width="3" filter="url(#blur1)" opacity="0.8"/><path d="M405.3,84.0 C410.1,77.5 418.0,74.2 428.5,74.2 C442.5,74.2 457.4,77.5 473.1,86.5 C486.2,94.5 500.2,108.0 512.5,126.0" fill="none" stroke="#fbfbfb" stroke-width="5.5"/><path d="M404.0,83.0 C409.2,75.0 418.0,71.5 428.5,71.5 C442.5,71.5 458.2,75.0 474.0,84.0 C487.1,92.0 502.0,106.0 514.2,124.0" fill="none" stroke="#8a8a8a" stroke-width="0.9"/><path d="M293.0,70.0 C331.9,71.0 370.7,74.5 404.0,86.0 C414.0,92.0 426.0,103.0 438.0,118.0 L438.0,132.0 L297.0,132.0 C290.0,110.0 288.0,90.0 293.0,70.0 Z" fill="url(#gSeg)"/><path d="M293.0,70.0 C331.9,71.0 370.7,74.5 404.0,86.0 C414.0,92.0 426.0,103.0 438.0,118.0 L438.0,132.0 L297.0,132.0 C290.0,110.0 288.0,90.0 293.0,70.0 Z" fill="url(#pStreak)" filter="url(#blur1)"/><ellipse cx="348.5" cy="98.0" rx="40.0" ry="10" fill="#f09020" opacity="0.25" filter="url(#blur3)"/><path d="M333.0,122.0 C339.0,106.0 349.0,98.0 365.0,97.0 C385.0,97.0 401.0,102.0 413.0,108.0" fill="none" stroke="#f09020" stroke-width="9" filter="url(#blur2)" opacity="0.75"/><path d="M297.0,82.0 C331.9,82.0 370.7,86.0 408.0,98.0" fill="none" stroke="#7a7a7a" stroke-width="6" filter="url(#blur3)" opacity="0.6"/><path d="M294.0,73.5 C331.9,74.5 370.7,78.0 403.0,89.5 C412.0,95.0 424.0,106.0 436.0,121.0" fill="none" stroke="#fdfdfd" stroke-width="7"/><path d="M293.0,70.0 C331.9,71.0 370.7,74.5 404.0,86.0 C414.0,92.0 426.0,103.0 438.0,118.0" fill="none" stroke="#999" stroke-width="0.8"/>
<path d="M293.0,71.0 C288.0,90.0 289.0,112.0 297.0,132.0" fill="none" stroke="#f4f4f4" stroke-width="3.5"/><path d="M291.5,71.0 C286.5,90.0 287.5,112.0 295.5,132.0" fill="none" stroke="#9c9c9c" stroke-width="0.8"/><path d="M227.0,77.5 L180.0,77.5 A3.5,10.0 0 0 0 180.0,97.5 L227.0,97.5 Z" fill="url(#gCu)"/><path d="M227.0,77.5 L180.0,77.5 A3.5,10.0 0 0 0 180.0,97.5 L227.0,97.5 Z" fill="url(#pCu)"/><ellipse cx="180.0" cy="87.5" rx="3.5" ry="10.0" fill="#d39c72" stroke="#a5704c" stroke-width="0.7"/><path d="M295.0,72.0 L222.0,72.0 A4.6,15.5 0 0 0 222.0,103.0 L295.0,103.0 Z" fill="url(#ggreen)"/><ellipse cx="222.0" cy="87.5" rx="4.6" ry="15.5" fill="#3ba636"/><path d="M296.0,90.2 L241.0,90.2 A1.6,4.5 0 0 0 241.0,99.2 L296.0,99.2 Z" fill="url(#gCu)"/><path d="M296.0,90.2 L241.0,90.2 A1.6,4.5 0 0 0 241.0,99.2 L296.0,99.2 Z" fill="url(#pCu)"/><ellipse cx="241.0" cy="94.8" rx="1.6" ry="4.5" fill="#d39c72" stroke="#a5704c" stroke-width="0.7"/><path d="M273.0,104.0 L227.0,104.0 A3.5,10.0 0 0 0 227.0,124.0 L273.0,124.0 Z" fill="url(#gCu)"/><path d="M273.0,104.0 L227.0,104.0 A3.5,10.0 0 0 0 227.0,124.0 L273.0,124.0 Z" fill="url(#pCu)"/><ellipse cx="227.0" cy="114.0" rx="3.5" ry="10.0" fill="#d39c72" stroke="#a5704c" stroke-width="0.7"/><path d="M295.0,98.0 L267.0,98.0 A4.8,16.0 0 0 0 267.0,130.0 L295.0,130.0 Z" fill="url(#gWhite)"/><ellipse cx="267.0" cy="114.0" rx="4.8" ry="16.0" fill="#ededed"/><ellipse cx="267.0" cy="114.0" rx="4.8" ry="16" fill="none" stroke="#b8b8b8" stroke-width="0.8"/>
<path d="M540.0,120.0 C540.0,112.0 540.0,108.5 540.0,108.5 C540.0,108.5 540.0,112.0 540.0,121.0 C540.0,129.0 540.0,143.0 540.0,161.0 L540.0,169.0 L540.0,169.0 L540.0,120.0 Z" fill="url(#gLobe)"/><path d="M540.0,120.0 C540.0,112.0 540.0,108.5 540.0,108.5 C540.0,108.5 540.0,112.0 540.0,121.0 C540.0,129.0 540.0,143.0 540.0,161.0 L540.0,169.0 L540.0,169.0 L540.0,120.0 Z" fill="url(#pStreak2)"/><path d="M540.0,129.0 C540.0,127.0 540.0,129.0 540.0,135.0" fill="none" stroke="#c4c4c4" stroke-width="1.5" filter="url(#blur1)"/><path d="M540.0,116.0 C540.0,113.0 540.0,115.0 540.0,125.0 C540.0,133.0 540.0,147.0 540.0,165.0 L540.0,169.0 L540.0,169.0 C540.0,153.0 540.0,133.0 540.0,116.0 Z" fill="url(#gHol)" filter="url(#blur1)"/><path d="M540.0,117.0 C540.0,114.5 540.0,116.5 540.0,126.5 C540.0,134.0 540.0,147.0 540.0,163.0" fill="none" stroke="#5a5a5a" stroke-width="3.5" filter="url(#blur1)" opacity="0.65"/><path d="M540.0,119.0 C540.0,131.0 540.0,145.0 540.0,161.0" fill="none" stroke="#5a5a5a" stroke-width="3" filter="url(#blur1)" opacity="0.75"/><path d="M540.0,125.0 C540.0,129.0 540.0,137.0 540.0,151.0" fill="none" stroke="#c0c0c0" stroke-width="3" filter="url(#blur1)" opacity="0.8"/><path d="M540.0,121.0 C540.0,114.5 540.0,111.2 540.0,111.2 C540.0,111.2 540.0,114.5 540.0,123.5 C540.0,131.5 540.0,145.0 540.0,163.0" fill="none" stroke="#fbfbfb" stroke-width="5.5"/><path d="M540.0,120.0 C540.0,112.0 540.0,108.5 540.0,108.5 C540.0,108.5 540.0,112.0 540.0,121.0 C540.0,129.0 540.0,143.0 540.0,161.0" fill="none" stroke="#8a8a8a" stroke-width="0.9"/><path d="M422.0,107.0 C463.3,108.0 504.6,111.5 540.0,123.0 C550.0,129.0 562.0,140.0 574.0,155.0 L574.0,169.0 L426.0,169.0 C419.0,147.0 417.0,127.0 422.0,107.0 Z" fill="url(#gSeg)"/><path d="M422.0,107.0 C463.3,108.0 504.6,111.5 540.0,123.0 C550.0,129.0 562.0,140.0 574.0,155.0 L574.0,169.0 L426.0,169.0 C419.0,147.0 417.0,127.0 422.0,107.0 Z" fill="url(#pStreak)" filter="url(#blur1)"/><path d="M426.0,119.0 C463.3,119.0 504.6,123.0 544.0,135.0" fill="none" stroke="#7a7a7a" stroke-width="6" filter="url(#blur3)" opacity="0.6"/><path d="M423.0,110.5 C463.3,111.5 504.6,115.0 539.0,126.5 C548.0,132.0 560.0,143.0 572.0,158.0" fill="none" stroke="#fdfdfd" stroke-width="7"/><path d="M422.0,107.0 C463.3,108.0 504.6,111.5 540.0,123.0 C550.0,129.0 562.0,140.0 574.0,155.0" fill="none" stroke="#999" stroke-width="0.8"/>
<path d="M422.0,108.0 C417.0,127.0 418.0,149.0 426.0,169.0" fill="none" stroke="#f4f4f4" stroke-width="3.5"/><path d="M420.5,108.0 C415.5,127.0 416.5,149.0 424.5,169.0" fill="none" stroke="#9c9c9c" stroke-width="0.8"/><path d="M356.0,120.0 L309.0,120.0 A3.5,10.0 0 0 0 309.0,140.0 L356.0,140.0 Z" fill="url(#gCu)"/><path d="M356.0,120.0 L309.0,120.0 A3.5,10.0 0 0 0 309.0,140.0 L356.0,140.0 Z" fill="url(#pCu)"/><ellipse cx="309.0" cy="130.0" rx="3.5" ry="10.0" fill="#d39c72" stroke="#a5704c" stroke-width="0.7"/><path d="M424.0,114.5 L351.0,114.5 A4.6,15.5 0 0 0 351.0,145.5 L424.0,145.5 Z" fill="url(#gorange)"/><ellipse cx="351.0" cy="130.0" rx="4.6" ry="15.5" fill="#e9962f"/><path d="M425.0,128.5 L370.0,128.5 A1.6,4.5 0 0 0 370.0,137.5 L425.0,137.5 Z" fill="url(#gCu)"/><path d="M425.0,128.5 L370.0,128.5 A1.6,4.5 0 0 0 370.0,137.5 L425.0,137.5 Z" fill="url(#pCu)"/><ellipse cx="370.0" cy="133.0" rx="1.6" ry="4.5" fill="#d39c72" stroke="#a5704c" stroke-width="0.7"/><path d="M402.0,138.0 L356.0,138.0 A3.5,10.0 0 0 0 356.0,158.0 L402.0,158.0 Z" fill="url(#gCu)"/><path d="M402.0,138.0 L356.0,138.0 A3.5,10.0 0 0 0 356.0,158.0 L402.0,158.0 Z" fill="url(#pCu)"/><ellipse cx="356.0" cy="148.0" rx="3.5" ry="10.0" fill="#d39c72" stroke="#a5704c" stroke-width="0.7"/><path d="M424.0,132.0 L396.0,132.0 A4.8,16.0 0 0 0 396.0,164.0 L424.0,164.0 Z" fill="url(#gWhite)"/><ellipse cx="396.0" cy="148.0" rx="4.8" ry="16.0" fill="#ededed"/><ellipse cx="396.0" cy="148.0" rx="4.8" ry="16" fill="none" stroke="#b8b8b8" stroke-width="0.8"/>
<g clip-path="url(#cpShade)"><path d="M415,4 C425,1 434,5 438,14 C441,22 441,30 440,36 L452,35 C459,37 463,44 464,54 C465,61 465,66 464,71 L477,70 C484,73 488,81 490,91 C491,98 491,103 490,108 L500,107 C505,112 508,121 509,132 C510,146 509,156 505,163 C502,167 497,170 491,171.5" fill="none" stroke="#000" stroke-width="18" filter="url(#blur3)" opacity="0.55"/></g>
<path d="M426,-6.5 L436,-4.5 L509,78 C513,88 516,98 518,103 C524,111 531,120 532,129 C533,136 532,143 531,149 C529,155 527,160 524,165 C521,170 517,175 513,178 C510,180 506,180.5 504,180.5 L493,173 L491,171.5 C497,170 502,167 505,163 C509,156 510,146 509,132 C508,121 505,112 500,107 L490,108 C491,103 491,98 490,91 C488,81 484,73 477,70 L464,71 C465,66 465,61 464,54 C463,44 459,37 452,35 L440,36 C441,30 441,22 438,14 C434,5 425,1 415,4 C412,2 417,-4 426,-6.5 Z" fill="url(#gRing2)"/>
<path d="M500,107 C505,112 508,121 509,132 C510,146 509,156 505,163 C502,167 497,170 491,171.5 L499.5,169 C505,168 509,167 512,166 C515,162 517,159 519,155 C521,148 523,141 523,134 C522,126 521,119 519,112 C515,108 508,106 500,107 Z" fill="#0c0c0c"/>
<path d="M518,103 C524,111 531,120 532,129 C533,136 532,143 531,149 C529,155 527,160 524,165 C521,170 517,175 513,178 C510,180 506,180.5 504,180.5 L493,173 L499.5,169 C505,168 509,167 512,166 C515,162 517,159 519,155 C521,148 523,141 523,134 C522,126 521,119 519,112 Z" fill="#2a2a2a"/>
<path d="M510,95 L900,92 L900,165.5 L504,178 C506,178 509,177 512,175 C515,172 518,167 521,162 C523,158 525,154 527,148 C528,143 529,136 528,129 C527,121 520,113 516,108 L510,95 Z" fill="url(#gJfront)"/>
<path d="M426,-4.5 L900,3 L900,102 L516,108 C515,107 514.5,106 514,105 C512,100 509,90 505,80 L432.5,-1.7 Z" fill="url(#gJtop)"/>
<path d="M520,110 L900,104.5" stroke="#565656" stroke-width="9" filter="url(#blur2)"/>
<path d="M426,-4.3 L900,3.2" stroke="#333" stroke-width="1"/>
</g>
<path d="M230,544.5 H101.8" fill="none" stroke="#1a1a1a" stroke-width="1.2"/>
<path d="M101.8,544 V630" fill="none" stroke="#5a5a5a" stroke-width="1.4"/>
<path d="M302.8,530.6 V629" stroke="#6a6a6a" stroke-width="1.5"/>
<path d="M528.8,530.6 V629.5" stroke="#6a6a6a" stroke-width="1.5"/>
<path d="M721,443 V630" stroke="#6a6a6a" stroke-width="1.5"/>
<circle cx="230" cy="544" r="6" fill="#111"/>
<circle cx="302.8" cy="530.6" r="6" fill="#111"/>
<circle cx="528.8" cy="530.6" r="6" fill="#111"/>
<circle cx="721" cy="443" r="6" fill="#111"/>
</svg>
<div class="t ti" style="left:99.37px;top:95px;transform:scaleX(1.0423)">8-core</div>
<div class="t ti" style="left:250.62px;top:95px;transform:scaleX(0.9911)">Twisted</div>
<div class="t ti" style="left:422.72px;top:95px;transform:scaleX(0.9557)">Pair</div>
<div class="t ti" style="left:515.10px;top:95px;transform:scaleX(0.9683)">Structure</div>
<div class="t su" style="left:21.23px;top:153px;transform:scaleX(1.0371)">multi-protection</div>
<div class="t su" style="left:202.84px;top:153px;transform:scaleX(1.0286)">provides</div>
<div class="t su" style="left:305.17px;top:153px;transform:scaleX(1.0171)">less</div>
<div class="t su" style="left:356.53px;top:153px;transform:scaleX(1.0730)">signal</div>
<div class="t su" style="left:432.66px;top:153px;transform:scaleX(0.9706)">losses</div>
<div class="t su" style="left:506.63px;top:153px;transform:scaleX(1.0692)">and</div>
<div class="t su" style="left:555.98px;top:153px;transform:scaleX(1.0582)">higher</div>
<div class="t su" style="left:635.60px;top:153px;transform:scaleX(1.0496)">performance</div>
<div class="t lb" style="left:27.51px;top:636.5px;transform:scaleX(0.9964)">Ground wire</div>
<div class="t lb" style="left:209.01px;top:636.5px;transform:scaleX(0.9946)">Double alum-foil</div>
<div class="t lb" style="left:430.41px;top:636.5px;transform:scaleX(0.9969)">Pure copper core</div>
<div class="t lb" style="left:659.08px;top:636.5px;transform:scaleX(0.9603)">PVC jacket</div>
</body></html>
